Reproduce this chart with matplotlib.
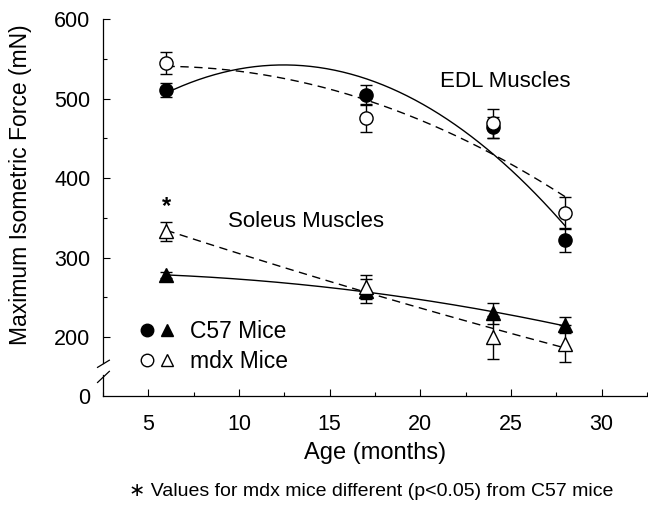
import numpy as np
import matplotlib
matplotlib.use("Agg")
import matplotlib.pyplot as plt
from matplotlib.ticker import FixedLocator, MultipleLocator
from matplotlib.legend_handler import HandlerTuple
from matplotlib.lines import Line2D

plt.rcParams['font.family'] = ['Liberation Sans', 'DejaVu Sans']

# data
age = [6, 17, 24, 28]
edl_c57 = [511, 505, 464, 322]
edl_c57_err = [9, 12, 13, 15]
edl_mdx = [545, 475, 469, 356]
edl_mdx_err = [14, 17, 18, 20]
sol_c57 = [278, 258, 230, 215]
sol_c57_err = [4, 15, 13, 10]
sol_mdx = [333, 263, 200, 192]
sol_mdx_err = [12, 15, 27, 23]

y_ticks = [200, 300, 400, 500, 600]
y_break_zero = 126   # where "0" sits below the axis break

fig = plt.figure(figsize=(6.48, 5.13), dpi=100)
ax = fig.add_axes([103/648, 1 - 396/513, 544/648, 377/513])

xs = np.linspace(min(age), max(age), 200)


def series(vals, errs, marker, filled, ls):
    coef = np.polyfit(age, vals, 2)
    ax.plot(xs, np.polyval(coef, xs), color='k', lw=1.0, ls=ls, zorder=2)
    ax.errorbar(age, vals, yerr=errs, fmt='none', ecolor='k', elinewidth=1.0,
                capsize=4, capthick=1.0, zorder=3)
    ax.plot(age, vals, ls='none', marker=marker, ms=9.5,
            mfc='k' if filled else 'white', mec='k', mew=1.0, zorder=4)


dash = (0, (6, 4))
series(edl_c57, edl_c57_err, 'o', True, '-')
series(edl_mdx, edl_mdx_err, 'o', False, dash)
series(sol_c57, sol_c57_err, '^', True, '-')
series(sol_mdx, sol_mdx_err, '^', False, dash)

# significance marker above the 6-month mdx soleus value
ax.annotate('*', xy=(age[0], sol_mdx[0] + sol_mdx_err[0]), xytext=(0, 3),
            textcoords='offset points', ha='center', va='bottom', fontsize=17,
            fontweight='bold')

ax.text(24.7, 522, 'EDL Muscles', fontsize=16, ha='center', va='center')
ax.text(9.4, 345, 'Soleus Muscles', fontsize=16, ha='left', va='center')

# axes
ax.set_xlim(2.5, 32.5)
ax.set_ylim(y_break_zero, 600)
ax.set_xticks([5, 10, 15, 20, 25, 30])
ax.xaxis.set_minor_locator(MultipleLocator(2.5))
ax.set_yticks([y_break_zero] + y_ticks)
ax.set_yticklabels(['0'] + [str(t) for t in y_ticks])
ax.yaxis.set_minor_locator(FixedLocator([250, 350, 450, 550]))
ax.tick_params(which='major', direction='in', length=5, width=0.8, labelsize=15.5)
ax.tick_params(axis='x', which='major', pad=13)
ax.tick_params(axis='y', which='major', pad=9)
ax.tick_params(which='minor', direction='in', length=3, width=0.8)
ax.yaxis.get_major_ticks()[0].tick1line.set_visible(False)

for s in ['top', 'right']:
    ax.spines[s].set_visible(False)
ax.spines['left'].set_bounds(167, 600)
ax.spines['left'].set_linewidth(0.9)
ax.spines['bottom'].set_linewidth(0.9)

# axis break on the y axis
ax.plot([2.5, 2.5], [y_break_zero, 152], color='k', lw=0.9, clip_on=False)
ax.plot([2.2, 2.85], [162, 171], color='k', lw=0.9, clip_on=False)
ax.plot([2.2, 2.85], [143, 157], color='k', lw=0.9, clip_on=False)

ax.set_xlabel('Age (months)', fontsize=17)
ax.xaxis.set_label_coords(0.5, -0.122)
ax.set_ylabel('Maximum Isometric Force (mN)', fontsize=16.5)
ax.yaxis.set_label_coords(-0.13, 0.56)

# legend
h_c57 = (Line2D([], [], ls='none', marker='o', ms=9, mfc='k', mec='k'),
         Line2D([], [], ls='none', marker='^', ms=9, mfc='k', mec='k'))
h_mdx = (Line2D([], [], ls='none', marker='o', ms=9, mfc='white', mec='k'),
         Line2D([], [], ls='none', marker='^', ms=9, mfc='white', mec='k'))
ax.legend([h_c57, h_mdx], ['C57 Mice', 'mdx Mice'],
          handler_map={tuple: HandlerTuple(ndivide=None, pad=0.35)},
          loc='upper left', bbox_to_anchor=(0.070, 0.202), frameon=False,
          fontsize=16.5, handlelength=1.4, handletextpad=0.74, labelspacing=0.30,
          borderaxespad=0, borderpad=0)

fig.text(0.573, 0.041, '\u2217 Values for mdx mice different (p<0.05) from C57 mice',
         ha='center', va='center', fontsize=14)

fig.savefig('out.png', dpi=100)
